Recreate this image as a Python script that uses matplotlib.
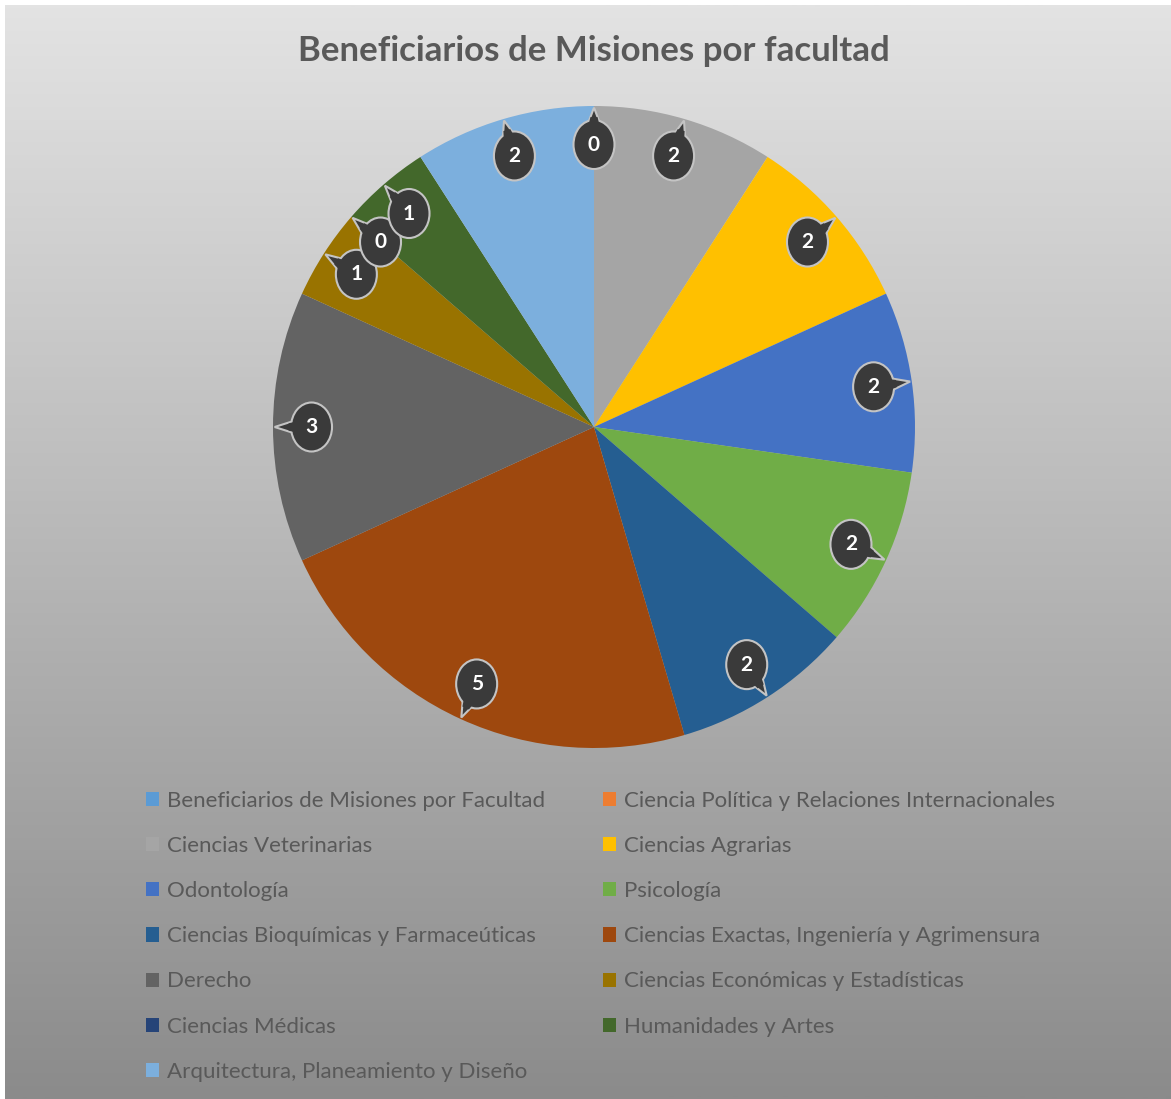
import numpy as np
import matplotlib
matplotlib.use("Agg")
import matplotlib.pyplot as plt
from matplotlib.patches import Ellipse, Polygon
from matplotlib.colors import LinearSegmentedColormap

# ---------------- data ----------------
title = "Beneficiarios de Misiones por facultad"
categories = [
    "Beneficiarios de Misiones por Facultad",
    "Ciencia Política y Relaciones Internacionales",
    "Ciencias Veterinarias",
    "Ciencias Agrarias",
    "Odontología",
    "Psicología",
    "Ciencias Bioquímicas y Farmaceúticas",
    "Ciencias Exactas, Ingeniería y Agrimensura",
    "Derecho",
    "Ciencias Económicas y Estadísticas",
    "Ciencias Médicas",
    "Humanidades y Artes",
    "Arquitectura, Planeamiento y Diseño",
]
values = [0, 0, 2, 2, 2, 2, 2, 5, 3, 1, 0, 1, 2]
has_label = [False, True, True, True, True, True, True, True, True, True, True, True, True]
colors = [
    "#5B9BD5", "#ED7D31", "#A5A5A5", "#FFC000", "#4472C4", "#70AD47",
    "#255E91", "#9E480E", "#636363", "#997300", "#264478", "#43682B",
    "#7CAFDD",
]

FONT = ["Lato", "DejaVu Sans"]
plt.rcParams["font.family"] = FONT

W, H = 1171, 1099
fig = plt.figure(figsize=(W / 100, H / 100), dpi=100)
fig.patch.set_facecolor("white")

# gradient background
bg = fig.add_axes([5 / W, 0, 1 - 5 / W, 1 - 5 / H])
grad = np.linspace(0, 1, 512).reshape(-1, 1)
cmap = LinearSegmentedColormap.from_list("bg", ["#e3e3e3", "#8b8b8b"])
bg.imshow(grad, cmap=cmap, aspect="auto", extent=[0, 1, 0, 1], origin="upper")
bg.axis("off")

# pie axes
cx, cy, R = 594, 427, 321
ax = fig.add_axes([(cx - R) / W, (H - cy - R) / H, 2 * R / W, 2 * R / H])
wedges, _ = ax.pie(values, colors=colors, startangle=90, counterclock=False,
                   radius=1, wedgeprops=dict(linewidth=0))
ax.set_xlim(-1, 1)
ax.set_ylim(-1, 1)
ax.axis("off")

# callout data labels
a, b = 20.5 / R, 24.5 / R  # semi axes
face, edge = "#3a3a3a", "#c4c4c4"
for w, v, show in zip(wedges, values, has_label):
    if not show:
        continue
    th = np.deg2rad((w.theta1 + w.theta2) / 2)
    u = np.array([np.cos(th), np.sin(th)])
    c = 0.88 * u
    tip = 0.995 * u
    d = tip - c
    dn = d / np.linalg.norm(d)
    t = 1 / np.sqrt((dn[0] / a) ** 2 + (dn[1] / b) ** 2)
    perp = np.array([-dn[1], dn[0]])
    hw = 6.5 / R
    base = c + 0.8 * t * dn
    tail = Polygon([base + hw * perp, tip, base - hw * perp], closed=True,
                   facecolor=face, edgecolor=edge, lw=1.5, zorder=5, clip_on=False)
    ax.add_patch(tail)
    ell = Ellipse(c, 2 * a, 2 * b, facecolor=face, edgecolor=edge, lw=1.5,
                  zorder=6, clip_on=False)
    ax.add_patch(ell)
    inner = c + 0.6 * t * dn
    mid = c + 1.12 * t * dn
    hw2 = hw * 0.55
    fill = Polygon([inner + hw * perp, mid + hw2 * perp, mid - hw2 * perp, inner - hw * perp],
                   closed=True, facecolor=face, edgecolor="none", zorder=7, clip_on=False)
    ax.add_patch(fill)
    ax.text(c[0], c[1], str(v), color="white", fontsize=15, fontweight="bold",
            ha="center", va="center", zorder=8)

# title
fig.text(594 / W, 1 - 51 / H, title, ha="center", va="center", fontsize=25.1,
         fontweight="bold", color="#595959")

# legend (row-major like Excel)
order = list(range(0, len(categories), 2)) + list(range(1, len(categories), 2))
leg = fig.legend([wedges[i] for i in order], [categories[i] for i in order],
                 loc="upper left", bbox_to_anchor=(146 / W, 1 - 791 / H),
                 ncol=2, frameon=False, fontsize=16, handlelength=0.6,
                 handleheight=0.6, handletextpad=0.35, columnspacing=2.6,
                 labelspacing=1.13, borderpad=0, borderaxespad=0,
                 labelcolor="#595959")

fig.savefig("out.png", dpi=100)
